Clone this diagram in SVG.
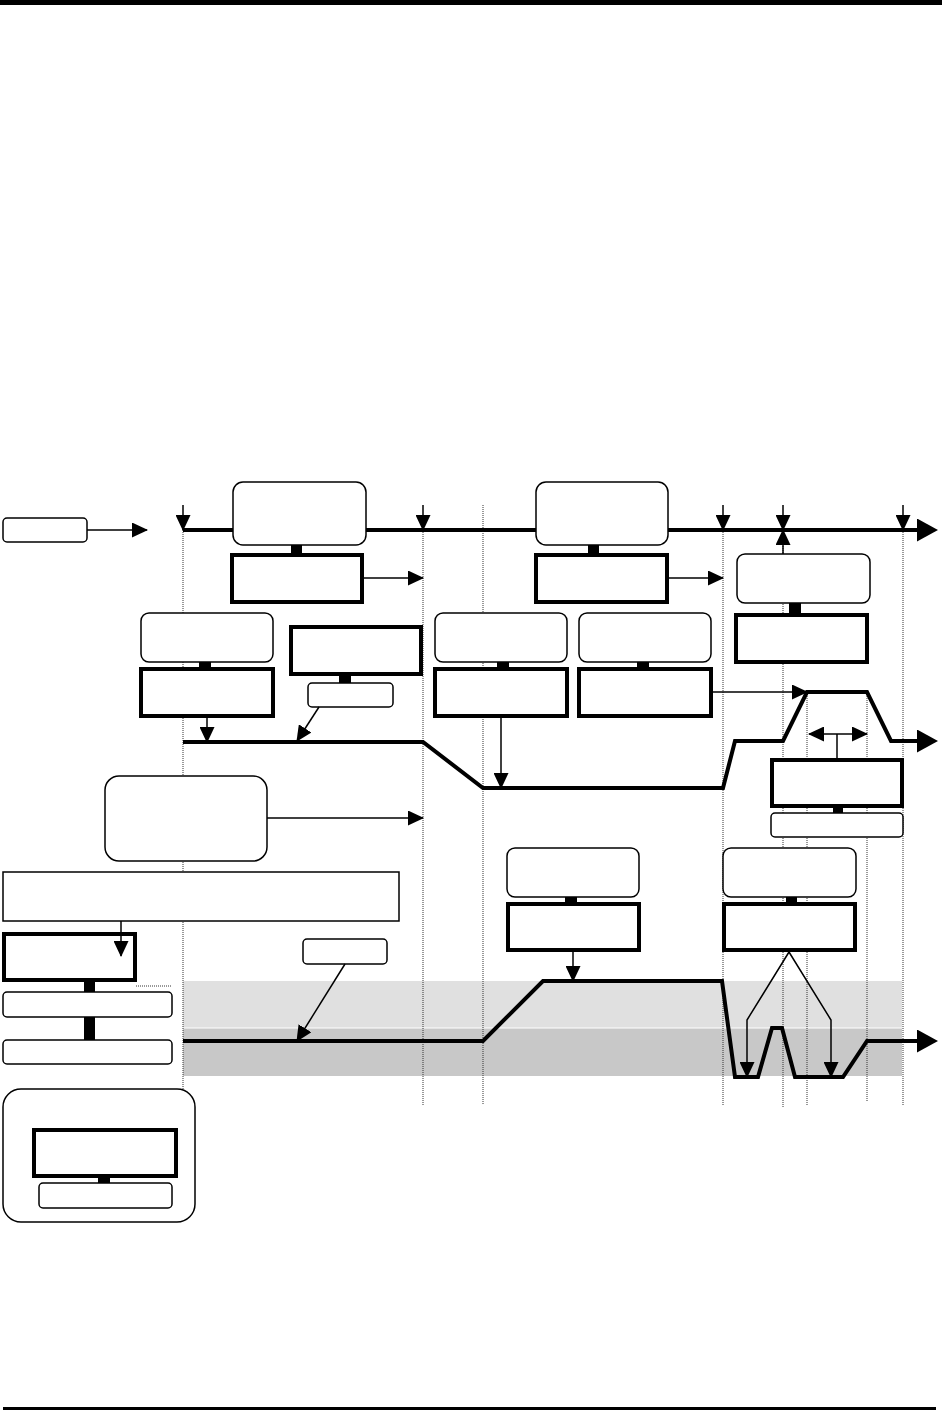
<svg xmlns="http://www.w3.org/2000/svg" width="942" height="1411" viewBox="0 0 942 1411">
<style>
.rb{fill:#fff;stroke:#000;stroke-width:1.5}
.tb{fill:#fff;stroke:#000;stroke-width:4}
.st{fill:#000}
.dot{stroke:#333;stroke-width:1;stroke-dasharray:1 1;fill:none}
.ar{stroke:#000;stroke-width:1.5;fill:none;marker-end:url(#ah)}
.tl{stroke:#000;stroke-width:4;fill:none;marker-end:url(#bh)}
</style>
<defs>
<marker id="ah" markerUnits="userSpaceOnUse" markerWidth="16" markerHeight="15" refX="15" refY="7.5" orient="auto"><path d="M0,0 L16,7.5 L0,15 z" fill="#000"/></marker>
<marker id="as" markerUnits="userSpaceOnUse" markerWidth="16" markerHeight="15" refX="15" refY="7.5" orient="auto-start-reverse"><path d="M0,0 L16,7.5 L0,15 z" fill="#000"/></marker>
<marker id="bh" markerUnits="userSpaceOnUse" markerWidth="22" markerHeight="23" refX="0" refY="11.5" orient="auto"><path d="M0,0 L21,11.5 L0,23 z" fill="#000"/></marker>
</defs>
<rect x="0" y="0" width="942" height="5" fill="#000"/>
<rect x="3" y="1407" width="933" height="3" fill="#000"/>
<g id="bands">
<rect x="183" y="981" width="719" height="47" fill="#e0e0e0"/>
<rect x="183" y="1028" width="719" height="48" fill="#c8c8c8"/>
<line x1="183" y1="1028" x2="902" y2="1028" stroke="#fff" stroke-width="1"/>
</g>
<g id="gridlines">
<line class="dot" x1="183" y1="530" x2="183" y2="1089"/>
<line class="dot" x1="423" y1="530" x2="423" y2="1105"/>
<line class="dot" x1="483" y1="505" x2="483" y2="1105"/>
<line class="dot" x1="723" y1="530" x2="723" y2="1105"/>
<line class="dot" x1="783" y1="530" x2="783" y2="1107"/>
<line class="dot" x1="807" y1="692" x2="807" y2="1105"/>
<line class="dot" x1="867" y1="692" x2="867" y2="1102"/>
<line class="dot" x1="903" y1="530" x2="903" y2="1105"/>
<line class="dot" x1="136" y1="986" x2="172" y2="986"/>
</g>
<g id="timelines">
<path class="tl" d="M183,530 H917"/>
<path class="tl" d="M183,742 H423 L483,788 H723 L735,741 H783 L807,692 H867 L891,741 H917"/>
<path class="tl" d="M183,1041 H483 L543,981 H722 L735,1077 H758 L772,1028 H782 L795,1077 H843 L867,1041 H917"/>
</g>
<g id="n-input"><rect class="rb" x="3" y="518" width="84" height="24" rx="4"/></g>
<g id="n-top1">
<rect class="rb" x="233" y="482" width="133" height="63" rx="10"/>
<rect class="st" x="291" y="545" width="11" height="9"/>
<rect class="tb" x="232" y="555" width="130" height="47"/>
</g>
<g id="n-top2">
<rect class="rb" x="536" y="482" width="132" height="63" rx="10"/>
<rect class="st" x="588" y="545" width="11" height="9"/>
<rect class="tb" x="536" y="555" width="131" height="47"/>
</g>
<g id="n-right">
<rect class="rb" x="737" y="554" width="133" height="49" rx="8"/>
<rect class="st" x="789" y="603" width="12" height="11"/>
<rect class="tb" x="736" y="615" width="131" height="47"/>
</g>
<g id="n-a">
<rect class="rb" x="141" y="613" width="132" height="49" rx="8"/>
<rect class="st" x="199" y="662" width="12" height="6"/>
<rect class="tb" x="141" y="669" width="132" height="47"/>
</g>
<g id="n-b">
<rect class="tb" x="291" y="627" width="130" height="47"/>
<rect class="st" x="339" y="676" width="12" height="7"/>
<rect class="rb" x="308" y="683" width="85" height="24" rx="4"/>
</g>
<g id="n-c">
<rect class="rb" x="435" y="613" width="132" height="49" rx="8"/>
<rect class="st" x="497" y="662" width="12" height="6"/>
<rect class="tb" x="435" y="669" width="132" height="47"/>
</g>
<g id="n-d">
<rect class="rb" x="579" y="613" width="132" height="49" rx="8"/>
<rect class="st" x="637" y="662" width="12" height="6"/>
<rect class="tb" x="579" y="669" width="132" height="47"/>
</g>
<g id="n-e">
<rect class="tb" x="772" y="760" width="130" height="46"/>
<rect class="st" x="833" y="808" width="10" height="6"/>
<rect class="rb" x="771" y="813" width="132" height="24" rx="4"/>
</g>
<g id="n-f"><rect class="rb" x="105" y="776" width="162" height="85" rx="14"/></g>
<g id="n-g"><rect class="rb" x="3" y="872" width="396" height="49"/></g>
<g id="n-h">
<rect class="rb" x="507" y="848" width="132" height="49" rx="8"/>
<rect class="st" x="565" y="897" width="12" height="6"/>
<rect class="tb" x="508" y="904" width="131" height="46"/>
</g>
<g id="n-i">
<rect class="rb" x="723" y="848" width="133" height="49" rx="8"/>
<rect class="st" x="786" y="897" width="11" height="6"/>
<rect class="tb" x="724" y="904" width="131" height="46"/>
</g>
<g id="n-j">
<rect class="tb" x="4" y="934" width="131" height="46"/>
<rect class="st" x="84" y="982" width="11" height="10"/>
<rect class="rb" x="3" y="992" width="169" height="25" rx="4"/>
<rect class="st" x="84" y="1017" width="11" height="23"/>
<rect class="rb" x="3" y="1040" width="169" height="24" rx="4"/>
</g>
<g id="n-k"><rect class="rb" x="303" y="939" width="84" height="25" rx="4"/></g>
<g id="n-legend">
<rect class="rb" x="3" y="1089" width="192" height="133" rx="18"/>
<rect class="tb" x="34" y="1130" width="142" height="46"/>
<rect class="st" x="98" y="1178" width="12" height="6"/>
<rect class="rb" x="39" y="1183" width="133" height="25" rx="4"/>
</g>
<g id="connectors">
<line class="ar" x1="87" y1="530" x2="147" y2="530"/>
<line class="ar" x1="183" y1="505" x2="183" y2="530"/>
<line class="ar" x1="423" y1="505" x2="423" y2="530"/>
<line class="ar" x1="723" y1="505" x2="723" y2="530"/>
<line class="ar" x1="783" y1="505" x2="783" y2="530"/>
<line class="ar" x1="903" y1="505" x2="903" y2="530"/>
<line class="ar" x1="364" y1="578" x2="423" y2="578"/>
<line class="ar" x1="669" y1="578" x2="723" y2="578"/>
<line class="ar" x1="783" y1="554" x2="783" y2="530"/>
<line class="ar" x1="207" y1="718" x2="207" y2="742"/>
<line class="ar" x1="319" y1="707" x2="297" y2="741"/>
<line class="ar" x1="267" y1="818" x2="423" y2="818"/>
<line class="ar" x1="121" y1="921" x2="121" y2="956"/>
<line class="ar" x1="345" y1="964" x2="297" y2="1041"/>
<line class="ar" x1="501" y1="718" x2="501" y2="788"/>
<line class="ar" x1="713" y1="692" x2="807" y2="692"/>
<line x1="809" y1="734" x2="867" y2="734" stroke="#000" stroke-width="1.5" marker-start="url(#as)" marker-end="url(#ah)"/>
<line x1="837" y1="734" x2="837" y2="758" stroke="#000" stroke-width="1.5"/>
<line class="ar" x1="573" y1="952" x2="573" y2="981"/>
<polyline class="ar" points="789,952 747,1020 747,1077"/>
<polyline class="ar" points="789,952 831,1020 831,1077"/>
</g>
</svg>
